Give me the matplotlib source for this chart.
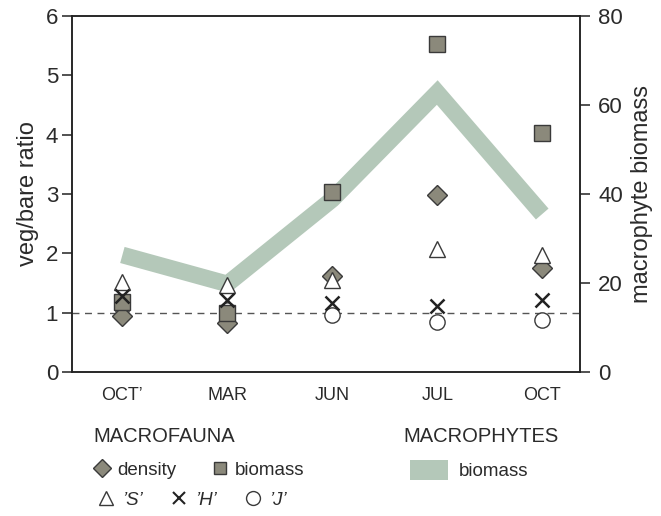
import matplotlib
matplotlib.use("Agg")
import matplotlib.pyplot as plt
from matplotlib.lines import Line2D
from matplotlib.patches import Patch

plt.rcParams['font.family'] = ['Liberation Sans', 'DejaVu Sans']

months = ["OCT\u2019", "MAR", "JUN", "JUL", "OCT"]
density = [0.94, 0.82, 1.62, 2.99, 1.76]
fauna_biomass = [1.18, 1.0, 3.03, 5.53, 4.03]
S_vals = [1.52, 1.46, 1.55, 2.07, 1.98]
H_vals = [1.28, 1.22, 1.17, 1.12, 1.21]
J_vals = [1.1, 1.05, 0.96, 0.85, 0.87]
macrophyte_biomass = [26.3, 19.8, 38.8, 62.8, 35.5]

x = list(range(len(months)))
txt = "#2b2b2b"
gray_fill = "#8b897b"
edge = "#3a3a3a"
green = "#b4c8b9"

fig = plt.figure(figsize=(6.61, 5.16), dpi=100)
ax = fig.add_axes([72/661, 1-372/516, (580-72)/661, (372-16)/516])
ax2 = ax.twinx()
ax.set_zorder(ax2.get_zorder() + 1)
ax.patch.set_visible(False)

ax2.plot(x, macrophyte_biomass, color=green, lw=12, solid_capstyle='butt',
         solid_joinstyle='miter', zorder=1)
ax2.set_ylim(0, 80)
ax2.set_yticks([0, 20, 40, 60, 80])

ax.axhline(1, color="#555555", lw=1, ls=(0, (5, 4)), zorder=1)
ax.plot(x, J_vals, ls='none', marker='o', ms=11, mfc='white', mec=edge, mew=1, zorder=2)
ax.plot(x, density, ls='none', marker='D', ms=10, mfc=gray_fill, mec=edge, mew=1, zorder=3)
ax.plot(x, fauna_biomass, ls='none', marker='s', ms=11, mfc=gray_fill, mec=edge, mew=1, zorder=4)
ax.plot(x, S_vals, ls='none', marker='^', ms=11, mfc='white', mec=edge, mew=1, zorder=5)
ax.plot(x, H_vals, ls='none', marker='x', ms=10, mec='#222222', mew=1.8, zorder=6)

ax.set_xlim(-0.48, 4.36)
ax.set_ylim(0, 6)
ax.set_yticks(range(0, 7))
ax.set_xticks(x)
ax.set_xticklabels(months)

for a in (ax, ax2):
    for s in a.spines.values():
        s.set_color("#222222")
        s.set_linewidth(1.1)
ax.tick_params(axis='y', labelsize=16, colors=txt, length=7, width=1.1, pad=3)
ax.tick_params(axis='y', color="#222222")
ax2.tick_params(axis='y', labelsize=16, colors=txt, length=7, width=1.1, pad=6)
ax2.tick_params(axis='y', color="#222222")
ax.tick_params(axis='x', labelsize=13, colors=txt, length=0, pad=11)

ax.set_ylabel("veg/bare ratio", fontsize=17, color=txt, labelpad=5)
ax2.set_ylabel("macrophyte biomass", fontsize=17, color=txt, labelpad=6)

W, H = 661, 516
fig.text(93/W, 1-436/H, "MACROFAUNA", fontsize=14.5, color=txt, va='center', ha='left')
fig.text(403/W, 1-436/H, "MACROPHYTES", fontsize=14.5, color=txt, va='center', ha='left')

h_density = Line2D([], [], ls='none', marker='D', ms=9, mfc=gray_fill, mec=edge, mew=1)
h_fbio = Line2D([], [], ls='none', marker='s', ms=9, mfc=gray_fill, mec=edge, mew=1)
leg1 = fig.legend([h_density, h_fbio], ["density", "biomass"], ncol=2, frameon=False,
                  loc='center left', bbox_to_anchor=(84/W, 1-470/H), fontsize=13.5,
                  handlelength=0.9, handletextpad=0.35, columnspacing=1.9, borderpad=0,
                  labelcolor=txt)
h_S = Line2D([], [], ls='none', marker='^', ms=10, mfc='white', mec=edge, mew=1)
h_H = Line2D([], [], ls='none', marker='x', ms=9, mec='#222222', mew=1.5)
h_J = Line2D([], [], ls='none', marker='o', ms=10, mfc='white', mec=edge, mew=1)
leg2 = fig.legend([h_S, h_H, h_J], ["\u2019S\u2019", "\u2019H\u2019", "\u2019J\u2019"], ncol=3,
                  frameon=False, loc='center left', bbox_to_anchor=(88/W, 1-500/H),
                  handlelength=0.9, handletextpad=0.4, columnspacing=1.5,
                  borderpad=0, prop={'style': 'italic', 'size': 13.5}, labelcolor=txt)
h_mac = Patch(facecolor=green, edgecolor='none')
leg3 = fig.legend([h_mac], ["biomass"], frameon=False, loc='center left',
                  bbox_to_anchor=(401/W, 1-470/H), fontsize=13.5, handlelength=2.0,
                  handleheight=1.3, handletextpad=0.6, borderpad=0, labelcolor=txt)

fig.savefig("out.png", dpi=100)
